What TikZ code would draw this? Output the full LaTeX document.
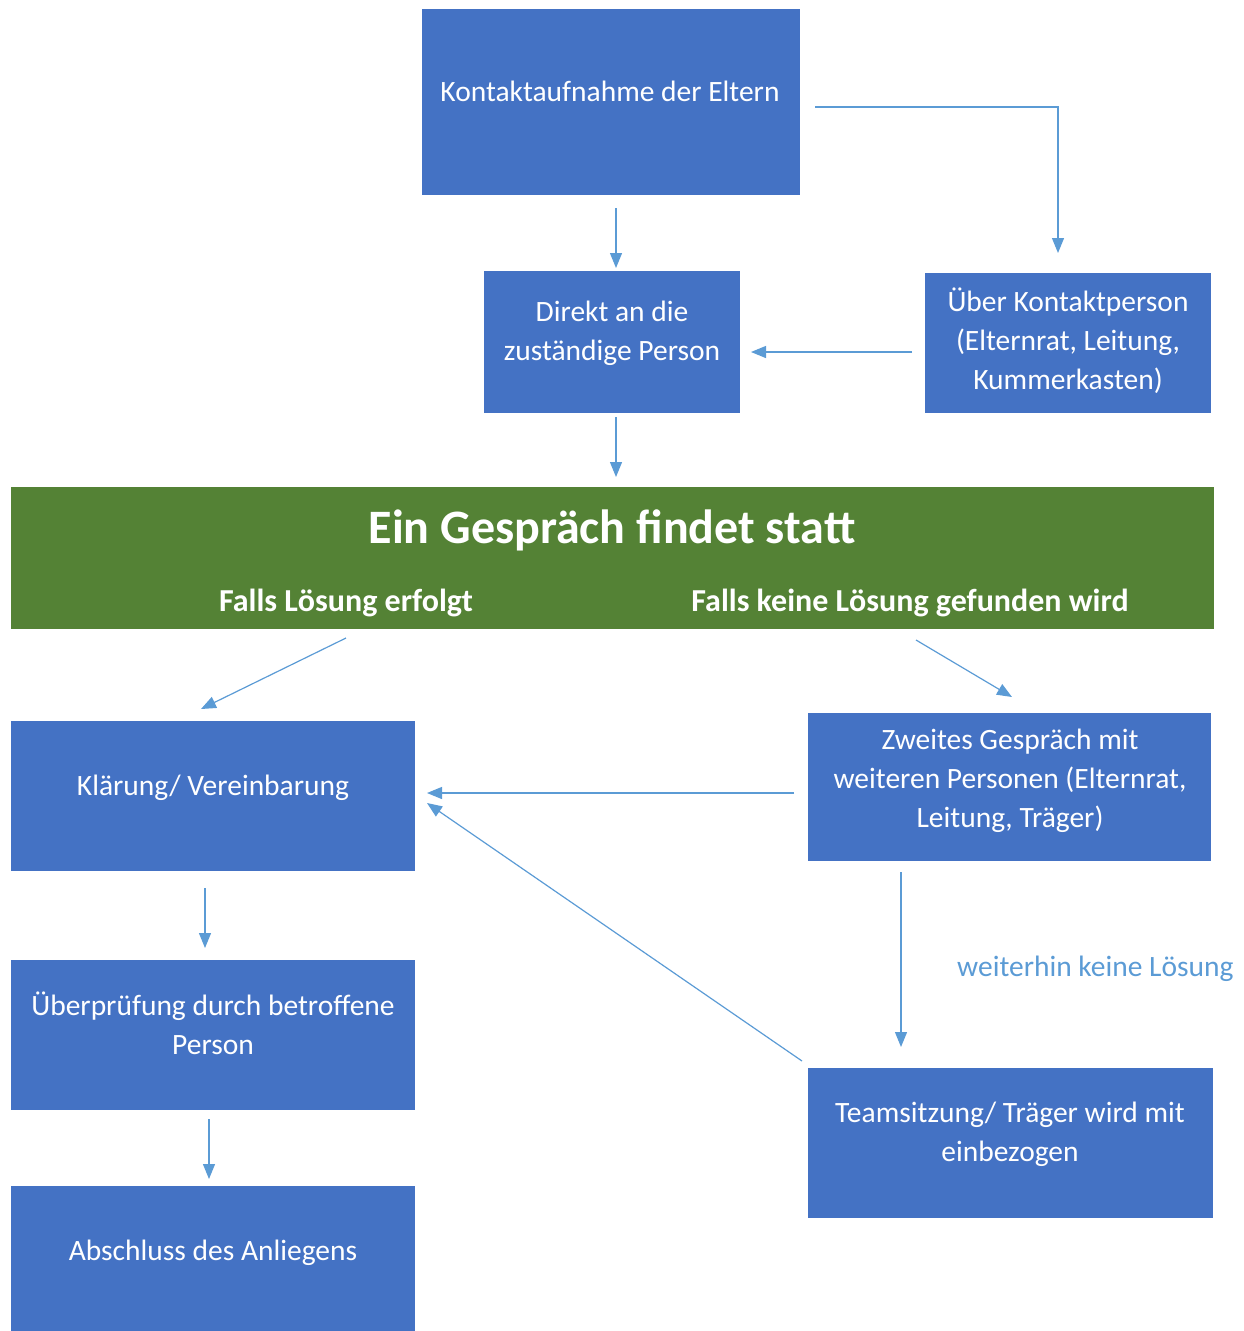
\documentclass[tikz,border=0pt]{standalone}
\usepackage{fontspec}
\setmainfont{Carlito}
\usetikzlibrary{arrows.meta}
\definecolor{boxblue}{HTML}{4472C4}
\definecolor{bandgreen}{HTML}{548235}
\definecolor{arrowblue}{HTML}{5B9BD5}
\begin{document}
\begin{tikzpicture}[x=1pt,y=-1pt,
  boxnode/.style 2 args={fill=boxblue, draw=none, inner sep=0pt, anchor=north west, minimum width=#1pt, minimum height=#2pt},
  boxtext/.style={text=white, align=center, inner sep=0pt, font=\fontsize{29.5}{39}\selectfont},
  subtext/.style={text=white, inner sep=0pt, font=\fontsize{32}{38}\selectfont\bfseries},
  arr/.style={draw=arrowblue, line width=1.2pt, -{Triangle[length=15pt,width=12pt]}}]
\useasboundingbox (0,0) rectangle (1244,1331);
% boxes
\node[boxnode={378}{186}] (k) at (422,9) {};
\node[boxtext] (kt) at (610,91) {Kontaktaufnahme der Eltern};
\node[boxnode={256}{142}] (d) at (484,271) {};
\node[boxtext] (dt) at (612,333) {Direkt an die\\zuständige Person};
\node[boxnode={286}{140}] (u) at (925,273) {};
\node[boxtext] (ut) at (1068,341) {Über Kontaktperson\\(Elternrat, Leitung,\\Kummerkasten)};
\node[fill=bandgreen, draw=none, inner sep=0pt, anchor=north west, minimum width=1203pt, minimum height=142pt] (g) at (11,487) {};
\node[text=white, inner sep=0pt, font=\fontsize{48}{56}\selectfont\bfseries] (gt) at (612,530) {Ein Gespräch findet statt};
\node[subtext] (gl) at (346,603) {Falls Lösung erfolgt};
\node[subtext] (gr) at (910,603) {Falls keine Lösung gefunden wird};
\node[boxnode={404}{150}] (kl) at (11,721) {};
\node[boxtext] (klt) at (213,788) {Klärung/ Vereinbarung};
\node[boxnode={403}{148}] (z) at (808,713) {};
\node[boxtext] (zt) at (1010,781) {Zweites Gespräch mit\\weiteren Personen (Elternrat,\\Leitung, Träger)};
\node[boxnode={404}{150}] (ue) at (11,960) {};
\node[boxtext] (uet) at (213,1023) {Überprüfung durch betroffene\\Person};
\node[boxnode={405}{150}] (t) at (808,1068) {};
\node[boxtext] (tt) at (1010,1134) {Teamsitzung/ Träger wird mit\\einbezogen};
\node[boxnode={404}{145}] (a) at (11,1186) {};
\node[boxtext] (at) at (213,1253) {Abschluss des Anliegens};
\node[text=arrowblue, inner sep=0pt, anchor=west, font=\fontsize{29.5}{35}\selectfont] (w) at (957,969) {weiterhin keine Lösung};
% arrow end points
\coordinate (p1) at (616,208); \coordinate (p2) at (616,268);
\coordinate (p3) at (815,107); \coordinate (p4) at (1058,253);
\coordinate (p5) at (912,352); \coordinate (p6) at (751,352);
\coordinate (p7) at (616,417); \coordinate (p8) at (616,477);
\coordinate (p9) at (346,638); \coordinate (p10) at (201,709);
\coordinate (p11) at (916,640); \coordinate (p12) at (1012,697);
\coordinate (p13) at (794,793); \coordinate (p14) at (427,793);
\coordinate (p15) at (802,1061); \coordinate (p16) at (427,803);
\coordinate (p17) at (205,888); \coordinate (p18) at (205,948);
\coordinate (p19) at (901,872); \coordinate (p20) at (901,1047);
\coordinate (p21) at (209,1119); \coordinate (p22) at (209,1179);
% arrows
\draw[arr] (p1) -- (p2);
\draw[arr] (p3) -| (p4);
\draw[arr] (p5) -- (p6);
\draw[arr] (p7) -- (p8);
\draw[arr] (p9) -- (p10);
\draw[arr] (p11) -- (p12);
\draw[arr] (p13) -- (p14);
\draw[arr] (p15) -- (p16);
\draw[arr] (p17) -- (p18);
\draw[arr] (p19) -- (p20);
\draw[arr] (p21) -- (p22);
\end{tikzpicture}
\end{document}
